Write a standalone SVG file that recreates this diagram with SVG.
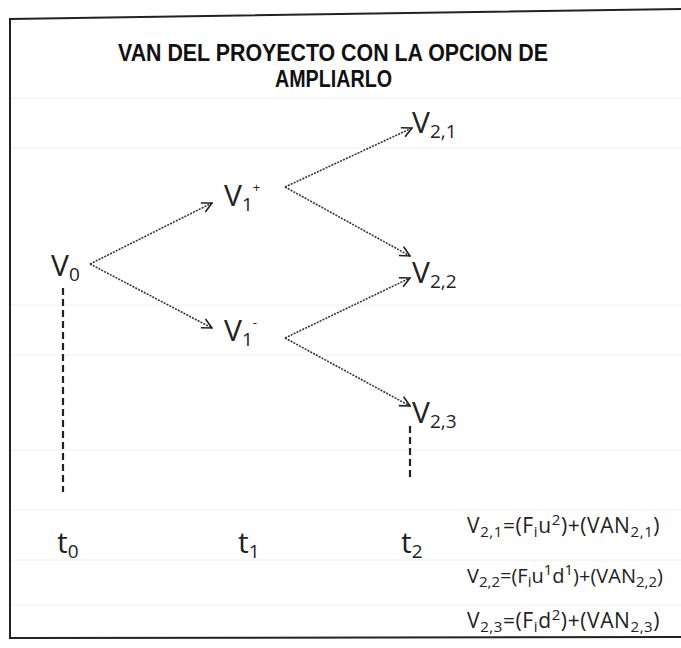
<svg xmlns="http://www.w3.org/2000/svg" width="681" height="648" viewBox="0 0 681 648">
<style>
.t{font-family:"Open Sans","Liberation Sans",sans-serif;fill:#222}
.n{font-size:30px}
.s{font-size:19px}
.f{font-size:21px;letter-spacing:0.6px}
.f2{font-size:20px;letter-spacing:0px}
.fs{font-size:15px}
.sup{font-size:13px}
.title{font-family:"Liberation Sans",sans-serif;font-weight:bold;font-size:24px;fill:#111}
.c{fill:none;stroke:#333;stroke-width:1.6;stroke-dasharray:2 1.2}
.d{fill:none;stroke:#222;stroke-width:2.2;stroke-dasharray:7 4}
.g{stroke:#eeeeee;stroke-width:1}
</style>
<defs>
<marker id="ah" viewBox="0 0 12 12" refX="11" refY="6" markerWidth="12" markerHeight="12" markerUnits="userSpaceOnUse" orient="auto">
<path d="M1,1 L11,6 L1,11" fill="none" stroke="#222" stroke-width="1.6"/>
</marker>
</defs>
<rect width="681" height="648" fill="#fff"/>
<g id="grid">
<line class="g" x1="10" y1="98" x2="681" y2="98"/>
<line class="g" x1="10" y1="148" x2="681" y2="148"/>
<line class="g" x1="10" y1="305" x2="681" y2="305"/>
<line class="g" x1="10" y1="355" x2="681" y2="355"/>
<line class="g" x1="10" y1="450" x2="681" y2="450"/>
<line class="g" x1="10" y1="510" x2="681" y2="510"/>
<line class="g" x1="10" y1="560" x2="681" y2="560"/>
<line class="g" x1="10" y1="605" x2="681" y2="605"/>
</g>
<g id="frame" fill="none" stroke="#222" stroke-width="2">
<polyline points="681,9 10,19 10,638 681,637"/>
</g>
<g id="title">
<text class="title" x="118" y="61" textLength="430" lengthAdjust="spacingAndGlyphs">VAN DEL PROYECTO CON LA OPCION DE</text>
<text class="title" x="275" y="87" textLength="117" lengthAdjust="spacingAndGlyphs">AMPLIARLO</text>
</g>
<g id="connectors">
<line class="c" x1="90" y1="264" x2="212" y2="203" marker-end="url(#ah)"/>
<line class="c" x1="90" y1="264" x2="212" y2="328" marker-end="url(#ah)"/>
<line class="c" x1="285" y1="187" x2="412" y2="128" marker-end="url(#ah)"/>
<line class="c" x1="285" y1="187" x2="410" y2="256" marker-end="url(#ah)"/>
<line class="c" x1="285" y1="338" x2="410" y2="278" marker-end="url(#ah)"/>
<line class="c" x1="285" y1="338" x2="410" y2="406" marker-end="url(#ah)"/>
<line class="d" x1="63" y1="288" x2="63" y2="492"/>
<line class="d" x1="410" y1="426" x2="410" y2="480"/>
</g>
<g id="V0"><text class="t n" x="51" y="276">V<tspan class="s" dy="5">0</tspan></text></g>
<g id="V1plus"><text class="t n" x="224" y="206">V<tspan class="s" dy="5">1</tspan><tspan class="sup" dy="-19">+</tspan></text></g>
<g id="V1minus"><text class="t n" x="224" y="341">V<tspan class="s" dy="5">1</tspan><tspan class="sup" dy="-19">-</tspan></text></g>
<g id="V21"><text class="t n" x="412" y="133">V<tspan class="s" dy="5">2,1</tspan></text></g>
<g id="V22"><text class="t n" x="412" y="283">V<tspan class="s" dy="5">2,2</tspan></text></g>
<g id="V23"><text class="t n" x="412" y="423">V<tspan class="s" dy="5">2,3</tspan></text></g>
<g id="t0"><text class="t n" x="57" y="553">t<tspan class="s" dy="5">0</tspan></text></g>
<g id="t1"><text class="t n" x="238" y="553">t<tspan class="s" dy="5">1</tspan></text></g>
<g id="t2"><text class="t n" x="401" y="553">t<tspan class="s" dy="5">2</tspan></text></g>
<g id="formula1"><text class="t f" x="467" y="533">V<tspan class="fs" dy="4">2,1</tspan><tspan dy="-4">=(F</tspan><tspan class="fs" dy="4">i</tspan><tspan dy="-4">u</tspan><tspan class="fs" dy="-8">2</tspan><tspan dy="8">)+(VAN</tspan><tspan class="fs" dy="4">2,1</tspan><tspan dy="-4">)</tspan></text></g>
<g id="formula2"><text class="t f2" x="467" y="583">V<tspan class="fs" dy="4">2,2</tspan><tspan dy="-4">=(F</tspan><tspan class="fs" dy="4">i</tspan><tspan dy="-4">u</tspan><tspan class="fs" dy="-8">1</tspan><tspan dy="8">d</tspan><tspan class="fs" dy="-8">1</tspan><tspan dy="8">)+(VAN</tspan><tspan class="fs" dy="4">2,2</tspan><tspan dy="-4">)</tspan></text></g>
<g id="formula3"><text class="t f" x="467" y="628">V<tspan class="fs" dy="4">2,3</tspan><tspan dy="-4">=(F</tspan><tspan class="fs" dy="4">i</tspan><tspan dy="-4">d</tspan><tspan class="fs" dy="-8">2</tspan><tspan dy="8">)+(VAN</tspan><tspan class="fs" dy="4">2,3</tspan><tspan dy="-4">)</tspan></text></g>
</svg>
